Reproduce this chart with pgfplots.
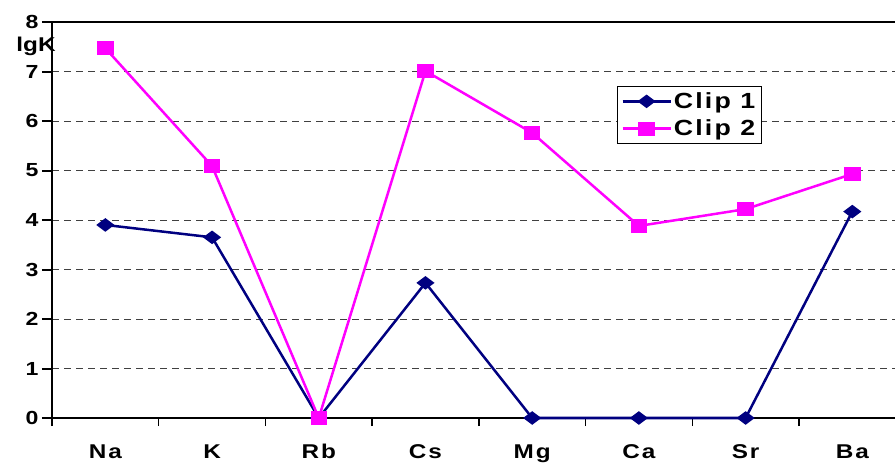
\documentclass[border=0pt]{standalone}
\usepackage{pgfplots}
\pgfplotsset{compat=1.18}
\usepackage{fontspec}
\setmainfont{Liberation Sans}[FakeStretch=1.22]
\definecolor{clipone}{HTML}{000080}
\definecolor{cliptwo}{HTML}{FF00FF}
\newcommand\yl[1]{{\fontsize{19}{19}\selectfont\bfseries #1\hspace{10bp}}}
\begin{document}
\begin{tikzpicture}
\begin{axis}[
  scale only axis, width=843bp, height=396bp,
  at={(0,0)}, anchor=south west,
  xmin=-0.5, xmax=7.4, ymin=0, ymax=8,
  axis x line*=bottom, axis y line*=left,
  axis line style={line width=2.5bp, black, -},
  xtick={0,...,7}, xticklabels={Na,K,Rb,Cs,Mg,Ca,Sr,Ba},
  minor xtick={-0.5,0.5,1.5,2.5,3.5,4.5,5.5,6.5},
  major x tick style={draw=none},
  minor x tick style={line width=1.5bp, black},
  minor tick length=8bp,
  tick align=outside,
  major tick length=10bp,
  ytick={0,...,7},
  yticklabels={\yl{0},\yl{1},\yl{2},\yl{3},\yl{4},\yl{5},\yl{6},\yl{7}},
  extra y ticks={8},
  extra y tick labels={\yl{8}},
  extra y tick style={major grid style={solid, line width=2bp, black}},
  ymajorgrids,
  major grid style={black!75, line width=1bp, dash pattern=on 7bp off 5bp},
  y tick style={line width=2bp, black},
  xticklabel style={font=\fontsize{20}{20}\selectfont\bfseries\addfontfeatures{LetterSpace=10}, anchor=base, yshift=-30bp},
  legend style={at={(0.670,0.838)}, anchor=north west, draw=black, line width=1bp,
    font=\fontsize{22}{24}\selectfont\bfseries\addfontfeatures{LetterSpace=10}, inner xsep=4bp, inner ysep=4bp,
    cells={anchor=west}, row sep=6bp},
  legend image code/.code={\draw[mark repeat=2,mark phase=2,#1] plot coordinates {(0bp,0bp) (24bp,0bp) (48bp,0bp)};},
  clip=false,
]
\addplot[clipone, line width=2.5bp, mark=diamond*, mark size=7bp, mark options={rotate=90, solid}]
  coordinates {(0,3.90) (1,3.65) (2,0) (3,2.73) (4,0) (5,0) (6,0) (7,4.17)};
\addlegendentry{Clip 1}
\addplot[cliptwo, line width=2.5bp, mark=square*, mark size=7bp, mark options={yscale=0.85, solid}]
  coordinates {(0,7.47) (1,5.09) (2,0) (3,7.01) (4,5.76) (5,3.88) (6,4.22) (7,4.93)};
\addlegendentry{Clip 2}
\node[font=\fontsize{20}{20}\selectfont\bfseries] at (axis description cs:-0.019,0.939) {lgK};
\end{axis}
\pgfresetboundingbox
\useasboundingbox (-52bp,-45bp) rectangle (843bp,418bp);
\end{tikzpicture}
\end{document}
